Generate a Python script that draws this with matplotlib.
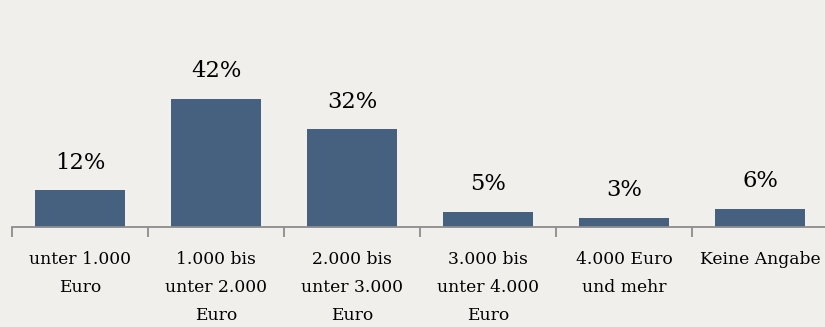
import matplotlib
matplotlib.use("Agg")
import matplotlib.pyplot as plt
import numpy as np

categories = [
    "unter 1.000\nEuro",
    "1.000 bis\nunter 2.000\nEuro",
    "2.000 bis\nunter 3.000\nEuro",
    "3.000 bis\nunter 4.000\nEuro",
    "4.000 Euro\nund mehr",
    "Keine Angabe",
]
shares = [12, 42, 32, 5, 3, 6]

bg = "#f0efec"
bar_color = "#45617f"
axis_color = "#8c8c8c"
font = ["DejaVu Serif"]

fig = plt.figure(figsize=(8.25, 3.27), dpi=100, facecolor=bg)
# Axis runs slightly past the right edge of the canvas
ax = fig.add_axes([12 / 825, 100 / 327, 816 / 825, 152.5 / 327], facecolor=bg)

x = np.arange(len(categories))
bars = ax.bar(x, shares, width=0.66, color=bar_color, zorder=2)

for b, v in zip(bars, shares):
    ax.annotate(f"{v}%", (b.get_x() + b.get_width() / 2, v),
                xytext=(0, 12), textcoords="offset points",
                ha="center", va="bottom", fontsize=16.3, family=font)

ax.set_xlim(-0.5, len(categories) - 0.5)
ax.set_ylim(0, 50)

for s in ["top", "right", "left"]:
    ax.spines[s].set_visible(False)
ax.spines["bottom"].set_color(axis_color)
ax.spines["bottom"].set_linewidth(1.3)

ax.set_yticks([])
ax.set_xticks(x)
ax.set_xticklabels(categories, fontsize=12.3, family=font, linespacing=1.85, va="top")
ax.tick_params(axis="x", which="major", length=0, pad=17)
ax.set_xticks(np.arange(-0.5, len(categories)), minor=True)
ax.tick_params(axis="x", which="minor", length=7, width=1.3, color=axis_color)

fig.savefig("out.png", dpi=100, facecolor=bg)
